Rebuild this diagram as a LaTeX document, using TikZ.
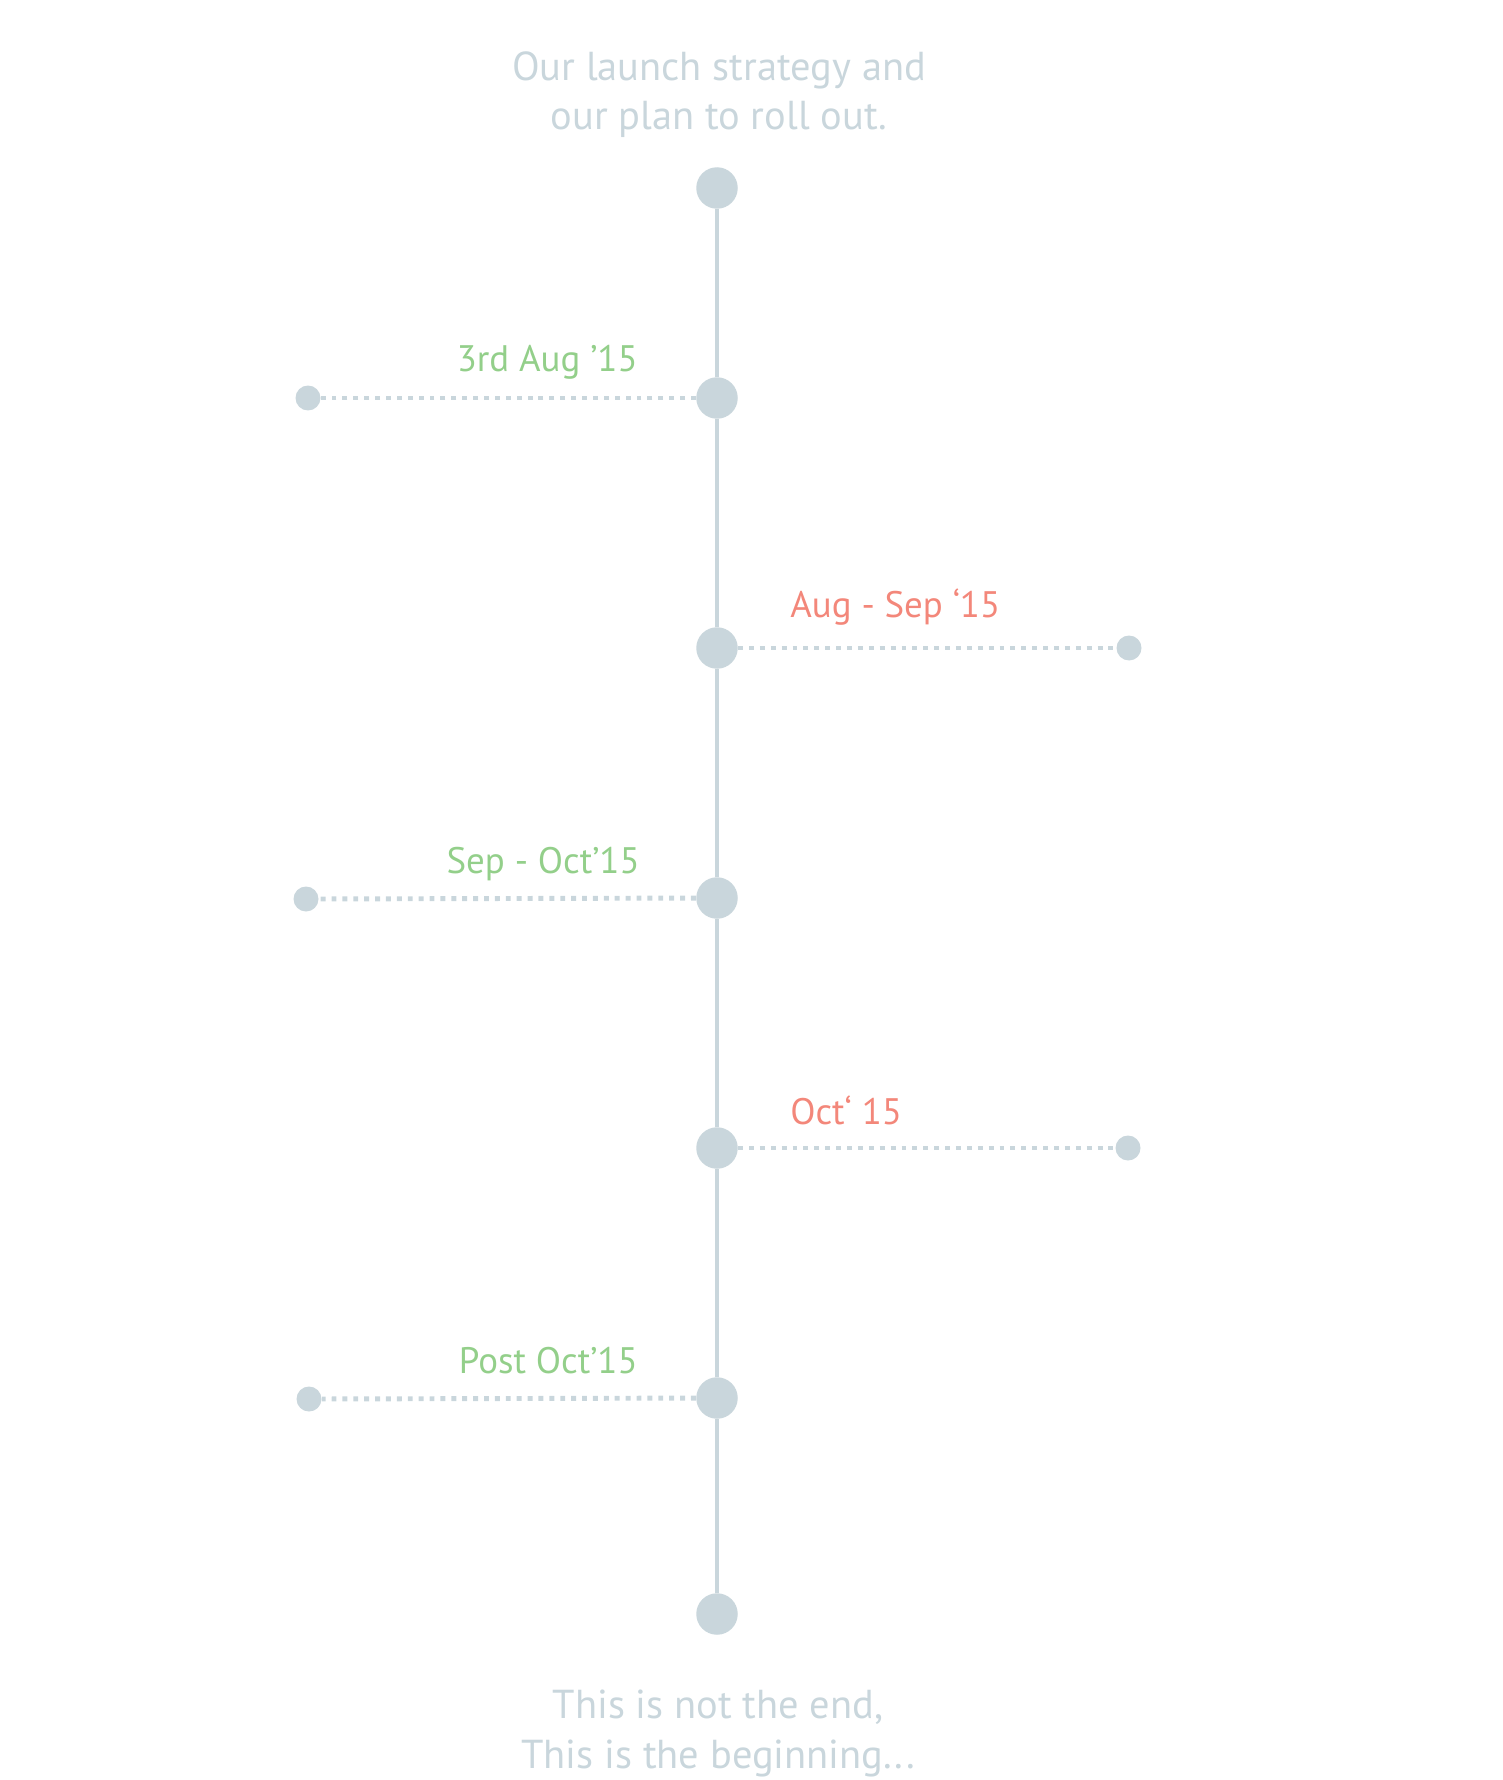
\documentclass[tikz,border=0pt]{standalone}
\usepackage{fontspec}
\setmainfont{PT Sans}
\usepackage{xcolor}
\definecolor{dotgray}{HTML}{C9D6DC}
\definecolor{datagreen}{HTML}{93CF8A}
\definecolor{datared}{HTML}{F3877A}
\tikzset{
    bigdot/.style={circle, fill=dotgray, inner sep=0pt, minimum size=0.83cm},
    smalldot/.style={circle, fill=dotgray, inner sep=0pt, minimum size=0.5cm},
    spine/.style={draw=dotgray, line width=1.9pt},
    leader/.style={draw=dotgray, line width=2.8pt, dash pattern=on 2.8pt off 3.4pt},
    datelabel/.style={font=\fontsize{21}{25}\selectfont, inner sep=0pt},
    notetext/.style={font=\fontsize{23}{28}\selectfont, text=dotgray, align=center, inner sep=0pt},
}

\begin{document}
\begin{tikzpicture}[x=0.02cm, y=-0.02cm]
        \useasboundingbox (0, 0) rectangle (1502, 1780);
        % milestones on the spine
        \node[bigdot] (start) at (717, 188) {};
        \node[bigdot] (m1) at (717, 398) {};
        \node[bigdot] (m2) at (717, 648) {};
        \node[bigdot] (m3) at (717, 898) {};
        \node[bigdot] (m4) at (717, 1148) {};
        \node[bigdot] (m5) at (717, 1398) {};
        \node[bigdot] (finish) at (717, 1614) {};
        \draw[spine] (start) -- (m1) -- (m2) -- (m3) -- (m4) -- (m5) -- (finish);
        % ends of the leaders
        \node[smalldot] (e1) at (308, 398) {};
        \node[smalldot] (e2) at (1129, 648) {};
        \node[smalldot] (e3) at (306, 899) {};
        \node[smalldot] (e4) at (1128, 1148) {};
        \node[smalldot] (e5) at (309, 1399) {};
        \draw[leader] (m1) -- (e1);
        \draw[leader] (m2) -- (e2);
        \draw[leader] (m3) -- (e3);
        \draw[leader] (m4) -- (e4);
        \draw[leader] (m5) -- (e5);
        % dates
        \node[datelabel, text=datagreen, anchor=base east] (d1) at (638, 372) {3rd Aug ’15};
        \node[datelabel, text=datared, anchor=base west] (d2) at (790, 617) {Aug - Sep ‘15};
        \node[datelabel, text=datagreen, anchor=base east] (d3) at (640, 873) {Sep - Oct’15};
        \node[datelabel, text=datared, anchor=base west] (d4) at (790, 1124) {Oct‘ 15};
        \node[datelabel, text=datagreen, anchor=base east] (d5) at (638, 1373) {Post Oct’15};
        % head and foot (base is the last line)
        \node[notetext, anchor=base] (head) at (719, 130) {Our launch strategy and\\our plan to roll out.};
        \node[notetext, anchor=base] (foot) at (718, 1768) {This is not the end,\\This is the beginning...};
      \end{tikzpicture}
\end{document}
